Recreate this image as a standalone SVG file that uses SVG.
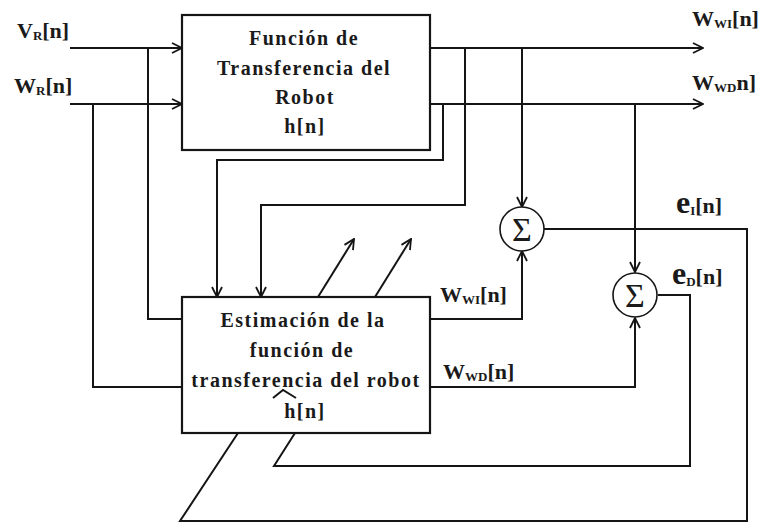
<svg xmlns="http://www.w3.org/2000/svg" width="766" height="523" viewBox="0 0 766 523">
<style>
  .ln{fill:none;stroke:#151515;stroke-width:2;stroke-linejoin:miter}
  .box{fill:#fff;stroke:#151515;stroke-width:2.2}
  .sum{fill:#fff;stroke:#151515;stroke-width:1.6}
  .t{font-family:"Liberation Serif","Times New Roman",serif;font-weight:bold;fill:#1a1a1a}
  .bx{font-size:20px;letter-spacing:1.5px;text-anchor:middle}
  .lb{font-size:22px}
  .sb{font-size:13px}
  .e{font-size:32px}
  .sg{font-family:"Liberation Serif","Times New Roman",serif;font-size:34px;fill:#1a1a1a;text-anchor:middle}
</style>
<defs>
  <marker id="ar" viewBox="0 0 12 12" refX="11" refY="6" markerWidth="12" markerHeight="12" markerUnits="userSpaceOnUse" orient="auto">
    <path d="M1,1 L11,6 L1,11" fill="none" stroke="#151515" stroke-width="1.8"/>
  </marker>
</defs>
<g id="connectors">
  <path class="ln" d="M70,48 H182" marker-end="url(#ar)"/>
  <path class="ln" d="M70,104 H182" marker-end="url(#ar)"/>
  <path class="ln" d="M148,48 V319 H182"/>
  <path class="ln" d="M93,104 V387 H182"/>
  <path class="ln" d="M430,48 H703" marker-end="url(#ar)"/>
  <path class="ln" d="M430,104 H703" marker-end="url(#ar)"/>
  <path class="ln" d="M443,104 V160 H217 V297" marker-end="url(#ar)"/>
  <path class="ln" d="M465,48 V205 H261 V297" marker-end="url(#ar)"/>
  <path class="ln" d="M522,48 V207" marker-end="url(#ar)"/>
  <path class="ln" d="M635,104 V272" marker-end="url(#ar)"/>
  <path class="ln" d="M430,319 H522 V251" marker-end="url(#ar)"/>
  <path class="ln" d="M430,387 H635 V318" marker-end="url(#ar)"/>
  <path class="ln" d="M544,229 H747 V521 H180 L238,433"/>
  <path class="ln" d="M658,295 H690 V466 H274 L295,433"/>
  <path class="ln" d="M318,297 L354,239" marker-end="url(#ar)"/>
  <path class="ln" d="M375,297 L411,239" marker-end="url(#ar)"/>
</g>
<g id="plant">
  <rect class="box" x="182" y="15" width="248" height="135"/>
  <text class="t bx" x="304" y="45">Función de</text>
  <text class="t bx" x="304" y="75">Transferencia del</text>
  <text class="t bx" x="305" y="104">Robot</text>
  <text class="t bx" x="305" y="133">h[n]</text>
</g>
<g id="estimator">
  <rect class="box" x="182" y="297" width="248" height="136"/>
  <text class="t bx" x="303" y="327">Estimación de la</text>
  <text class="t bx" x="302" y="357">función de</text>
  <text class="t bx" x="306" y="387">transferencia del robot</text>
  <text class="t bx" x="305" y="418">h[n]</text>
  <polyline class="ln" points="273,398 283,390 296,398" stroke-width="1.6"/>
</g>
<g id="sum1">
  <circle class="sum" cx="522" cy="229" r="22"/>
  <text class="sg" x="522" y="241">Σ</text>
</g>
<g id="sum2">
  <circle class="sum" cx="635" cy="295" r="22"/>
  <text class="sg" x="635" y="307">Σ</text>
</g>
<g id="labels">
  <text class="t lb" x="17" y="38">V<tspan class="sb" dy="2">R</tspan><tspan dy="-2">[n]</tspan></text>
  <text class="t lb" x="14" y="93">W<tspan class="sb" dy="2">R</tspan><tspan dy="-2">[n]</tspan></text>
  <text class="t lb" x="692" y="26">W<tspan class="sb" dy="2">WI</tspan><tspan dy="-2">[n]</tspan></text>
  <text class="t lb" x="692" y="90">W<tspan class="sb" dy="2">WD</tspan><tspan dy="-2">n]</tspan></text>
  <text class="t lb" x="440" y="302">W<tspan class="sb" dy="2">WI</tspan><tspan dy="-2">[n]</tspan></text>
  <text class="t lb" x="443" y="379">W<tspan class="sb" dy="2">WD</tspan><tspan dy="-2">[n]</tspan></text>
  <text class="t e" x="676" y="213">e<tspan class="sb" dy="2">I</tspan><tspan style="font-size:22px" dy="-2">[n]</tspan></text>
  <text class="t e" x="672" y="284">e<tspan class="sb" dy="2">D</tspan><tspan style="font-size:22px" dy="-2">[n]</tspan></text>
</g>
</svg>
